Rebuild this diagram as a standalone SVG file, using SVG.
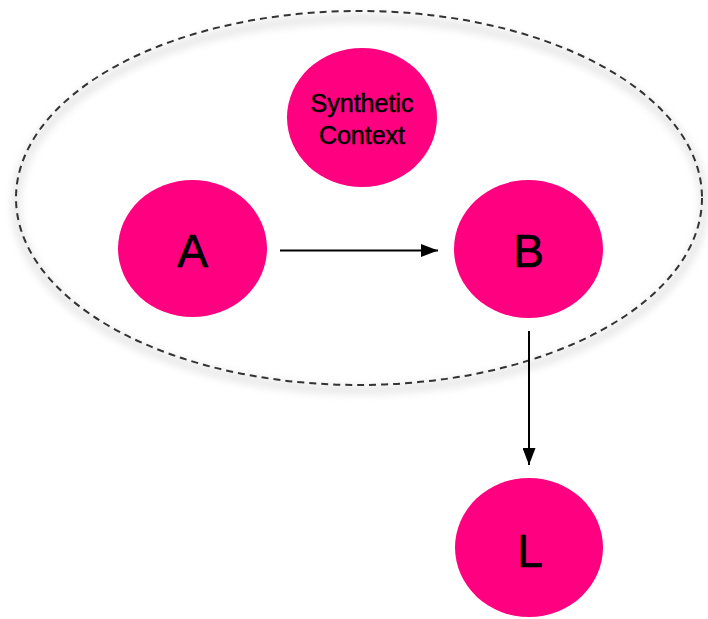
<svg xmlns="http://www.w3.org/2000/svg" width="708" height="619" viewBox="0 0 708 619">
<style>
.node{fill:#FF0080;}
.lbl{font-family:"Liberation Sans",Arial,sans-serif;fill:#000;text-anchor:middle;stroke:#000;stroke-width:0.7;}
.big{font-size:46px;}
.small{font-size:25px;stroke-width:0.5;}
.edge{stroke:#000;stroke-width:2;fill:none;}
.ctx{fill:none;stroke:#333;stroke-width:2;stroke-dasharray:7 5;}
</style>
<defs>
<filter id="blur" x="-10%" y="-10%" width="120%" height="130%">
<feGaussianBlur stdDeviation="4"/>
</filter>
<marker id="arr" viewBox="0 0 17 13" refX="17" refY="6.5" markerWidth="17" markerHeight="13" markerUnits="userSpaceOnUse" orient="auto">
<path d="M0,0 L17,6.5 L0,13 Z" fill="#000"/>
</marker>
</defs>
<rect width="708" height="619" fill="#fff"/>
<g id="context">
<ellipse cx="360" cy="204" rx="344" ry="186" fill="none" stroke="#e2e2e2" stroke-width="7" filter="url(#blur)"/>
<ellipse class="ctx" cx="359" cy="198" rx="343" ry="187"/>
</g>
<g id="synthetic">
<ellipse class="node" cx="362" cy="117.5" rx="75" ry="69.5"/>
<text class="lbl small" x="362" y="112">Synthetic</text>
<text class="lbl small" x="362" y="144">Context</text>
</g>
<g id="A">
<ellipse class="node" cx="192.5" cy="248.5" rx="74.5" ry="68.5"/>
<text class="lbl big" x="192.5" y="267">A</text>
</g>
<g id="B">
<ellipse class="node" cx="528.5" cy="249" rx="74.5" ry="69"/>
<text class="lbl big" x="528.5" y="267">B</text>
</g>
<g id="L">
<ellipse class="node" cx="529" cy="547.5" rx="74" ry="69.5"/>
<text class="lbl big" x="530" y="567">L</text>
</g>
<g id="connectors">
<line class="edge" x1="280" y1="250.5" x2="438" y2="250.5" marker-end="url(#arr)"/>
<line class="edge" x1="529" y1="331" x2="529" y2="465" marker-end="url(#arr)"/>
</g>
</svg>
